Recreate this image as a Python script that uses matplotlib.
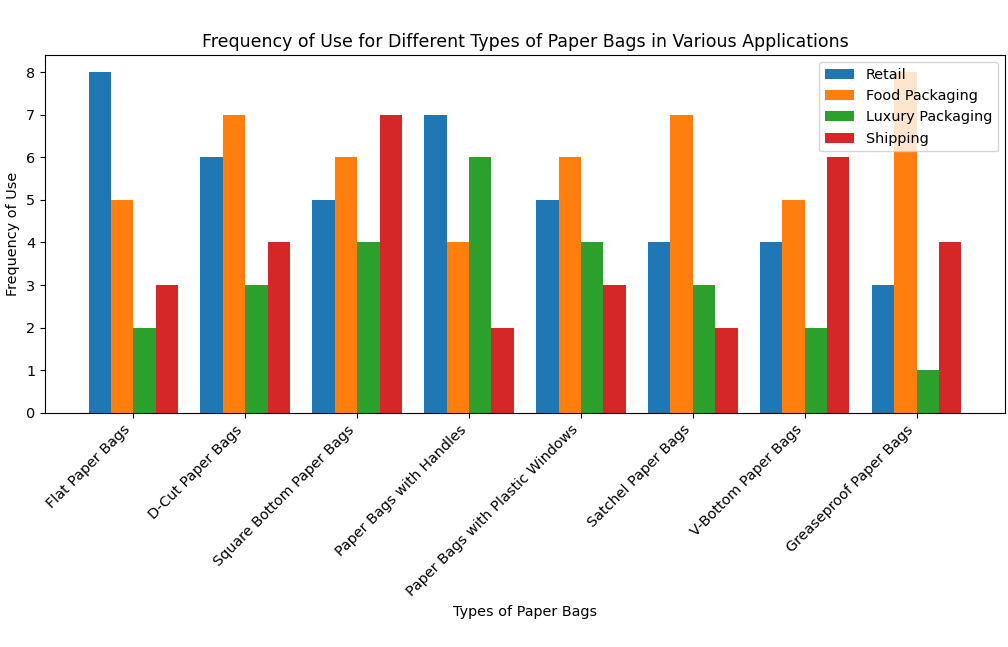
import matplotlib
matplotlib.use('Agg')
from matplotlib import pyplot as plt
import numpy as np

bag_types = ['Flat Paper Bags', 'D-Cut Paper Bags', 'Square Bottom Paper Bags',
             'Paper Bags with Handles', 'Paper Bags with Plastic Windows',
             'Satchel Paper Bags', 'V-Bottom Paper Bags', 'Greaseproof Paper Bags']
retail = [8, 6, 5, 7, 5, 4, 4, 3]
food_packaging = [5, 7, 6, 4, 6, 7, 5, 8]
luxury_packaging = [2, 3, 4, 6, 4, 3, 2, 1]
shipping = [3, 4, 7, 2, 3, 2, 6, 4]

series = [('Retail', retail), ('Food Packaging', food_packaging),
          ('Luxury Packaging', luxury_packaging), ('Shipping', shipping)]

plt.rcParams['font.size'] = 10.4

x = np.arange(len(bag_types))
width = 0.2

fig, ax = plt.subplots(figsize=(10.08, 6.47), dpi=100)
for i, (name, vals) in enumerate(series):
    ax.bar(x + (i - 1.5) * width, vals, width, label=name)

ax.set_title('Frequency of Use for Different Types of Paper Bags in Various Applications')
ax.set_xlabel('Types of Paper Bags')
ax.set_ylabel('Frequency of Use')
ax.set_xticks(x)
ax.set_xticklabels(bag_types, rotation=45, ha='right')
ax.legend(loc='upper right')

# axes box placed to match the reference
fig.subplots_adjust(left=0.0446, right=0.997, top=0.915, bottom=0.362)
plt.savefig('out.png')
